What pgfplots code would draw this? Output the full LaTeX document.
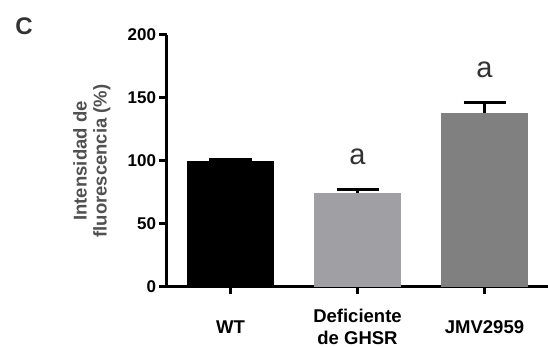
\documentclass[border=0pt]{standalone}
\usepackage{fontspec}
\setmainfont{Liberation Sans}
\usepackage{pgfplots}
\pgfplotsset{compat=1.18}
\definecolor{bartwo}{RGB}{160,160,164}
\definecolor{barthree}{RGB}{128,128,128}
\definecolor{labgray}{RGB}{80,80,80}
\definecolor{cgray}{RGB}{50,50,50}
\begin{document}
\begin{tikzpicture}
\useasboundingbox (-167pt,-60pt) rectangle (381pt,287pt);
\begin{axis}[
  scale only axis, width=381pt, height=252pt,
  xmin=0.5, xmax=3.5, ymin=0, ymax=200,
  axis x line=bottom, axis y line=left,
  axis line style={line width=3pt,-},
  ytick={0,50,100,150,200}, xtick={1,2,3},
  xticklabels={WT,{Deficiente\\de GHSR},JMV2959},
  xticklabel style={align=center, anchor=center, yshift=-32.5pt,
    font=\fontsize{18.5}{21.5}\selectfont\bfseries},
  yticklabel style={font=\fontsize{17}{20}\selectfont\bfseries},
  /pgf/number format/assume math mode=true,
  tick style={line width=3pt, black},
  major tick length=7.5pt,
  tick align=outside,
  ylabel={Intensidad de\\fluorescencia (\%)},
  ylabel style={at={(axis description cs:-0.197,0.5)}, anchor=center, align=center,
    text=labgray, font=\fontsize{18.5}{20}\selectfont\bfseries},
  ybar, bar width=87.5pt,
  clip=false,
]
\addplot[fill=black, draw=none, bar shift=0pt,
  error bars/.cd, y dir=plus, y explicit,
  error bar style={line width=3pt, black},
  error mark options={rotate=90, mark size=21pt, line width=3pt, black}]
  coordinates {(1,100) +- (0,1)};
\addplot[fill=bartwo, draw=none, bar shift=0pt,
  error bars/.cd, y dir=plus, y explicit,
  error bar style={line width=3pt, black},
  error mark options={rotate=90, mark size=21pt, line width=3pt, black}]
  coordinates {(2,74.4) +- (0,3.1)};
\addplot[fill=barthree, draw=none, bar shift=0pt,
  error bars/.cd, y dir=plus, y explicit,
  error bar style={line width=3pt, black},
  error mark options={rotate=90, mark size=21pt, line width=3pt, black}]
  coordinates {(3,137.8) +- (0,8.6)};
\node[font=\fontsize{29}{29}\selectfont, text=cgray] at (axis cs:2,103.4) {a};
\node[font=\fontsize{29}{29}\selectfont, text=cgray] at (axis cs:3,172.6) {a};
\end{axis}
\node[font=\fontsize{24}{24}\selectfont\bfseries, text=cgray] at (-143pt,260.5pt) {C};
\end{tikzpicture}
\end{document}
